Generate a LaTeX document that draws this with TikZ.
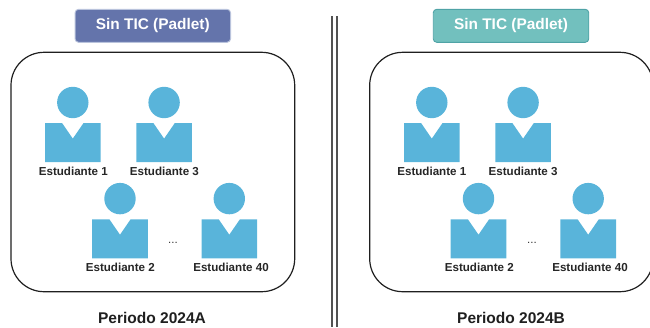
\documentclass[tikz,border=0pt]{standalone}
\usepackage{fontspec}
\setmainfont{Liberation Sans}
\definecolor{personblue}{HTML}{59B4DA}
\definecolor{hblue}{HTML}{6474AB}
\definecolor{hteal}{HTML}{72C0BE}
\definecolor{hblueline}{HTML}{B9C3DC}
\definecolor{htealline}{HTML}{4FA3A6}
\tikzset{
  px/.style={x=1pt,y=-1pt},
  frame/.style={draw=black!88,line width=1.2pt,rounded corners=33pt},
  header/.style={line width=0.9pt,rounded corners=3.5pt,minimum width=155.5pt,minimum height=33pt,inner sep=0pt,text=white,font=\bfseries\fontsize{15.4}{18}\selectfont},
  stulabel/.style={inner sep=0pt,text=black!85,font=\bfseries\fontsize{11.6}{13}\selectfont},
  period/.style={inner sep=0pt,text=black!88,font=\bfseries\fontsize{15.5}{18}\selectfont},
  dots/.style={inner sep=0pt,text=black!80,font=\fontsize{11.5}{13}\selectfont},
  divider/.style={draw=black!68,line width=2pt},
  person/.pic={
    \fill[personblue] (0,-20.7) circle (15.7);
    \fill[personblue] (-27.8,0) -- (-10.6,0) -- (0,15.4) -- (10.6,0) -- (27.8,0) -- (27.8,39) -- (-27.8,39) -- cycle;
  }
}
\begin{document}
\begin{tikzpicture}[px]
\useasboundingbox (0,0) rectangle (650,327);
% left panel
\node[header,draw=hblueline,fill=hblue] (hl) at (152.8,25.8) {Sin TIC (Padlet)};
\draw[frame] (11,52.3) rectangle (294.7,291.7);
\pic at (72.8,123.2) {person};
\pic at (164.1,123.2) {person};
\pic at (120,219.3) {person};
\pic at (229.3,219.3) {person};
\node[stulabel] (l1) at (73.3,171.3) {Estudiante 1};
\node[stulabel] (l3) at (164.4,171.3) {Estudiante 3};
\node[stulabel] (l2) at (120.3,267.3) {Estudiante 2};
\node[stulabel] (l40) at (231,267.3) {Estudiante 40};
\node[dots] (ld) at (173,243) {...};
\node[period] (pl) at (152,317.5) {Periodo 2024A};
% divider
\coordinate (da) at (332.3,16);
\coordinate (db) at (332.3,327);
\coordinate (dc) at (337.3,16);
\coordinate (dd) at (337.3,327);
\draw[divider] (da) -- (db);
\draw[divider] (dc) -- (dd);
% right panel
\node[header,draw=htealline,fill=hteal] (hr) at (511,25.8) {Sin TIC (Padlet)};
\draw[frame] (369.7,52.3) rectangle (653,291.7);
\pic at (431.8,123.2) {person};
\pic at (523.1,123.2) {person};
\pic at (478.5,219.3) {person};
\pic at (588.2,219.3) {person};
\node[stulabel] (r1) at (431.8,171.3) {Estudiante 1};
\node[stulabel] (r3) at (523.1,171.3) {Estudiante 3};
\node[stulabel] (r2) at (479.3,267.3) {Estudiante 2};
\node[stulabel] (r40) at (590,267.3) {Estudiante 40};
\node[dots] (rd) at (532,243) {...};
\node[period] (pr) at (511,317.5) {Periodo 2024B};
\end{tikzpicture}
\end{document}
